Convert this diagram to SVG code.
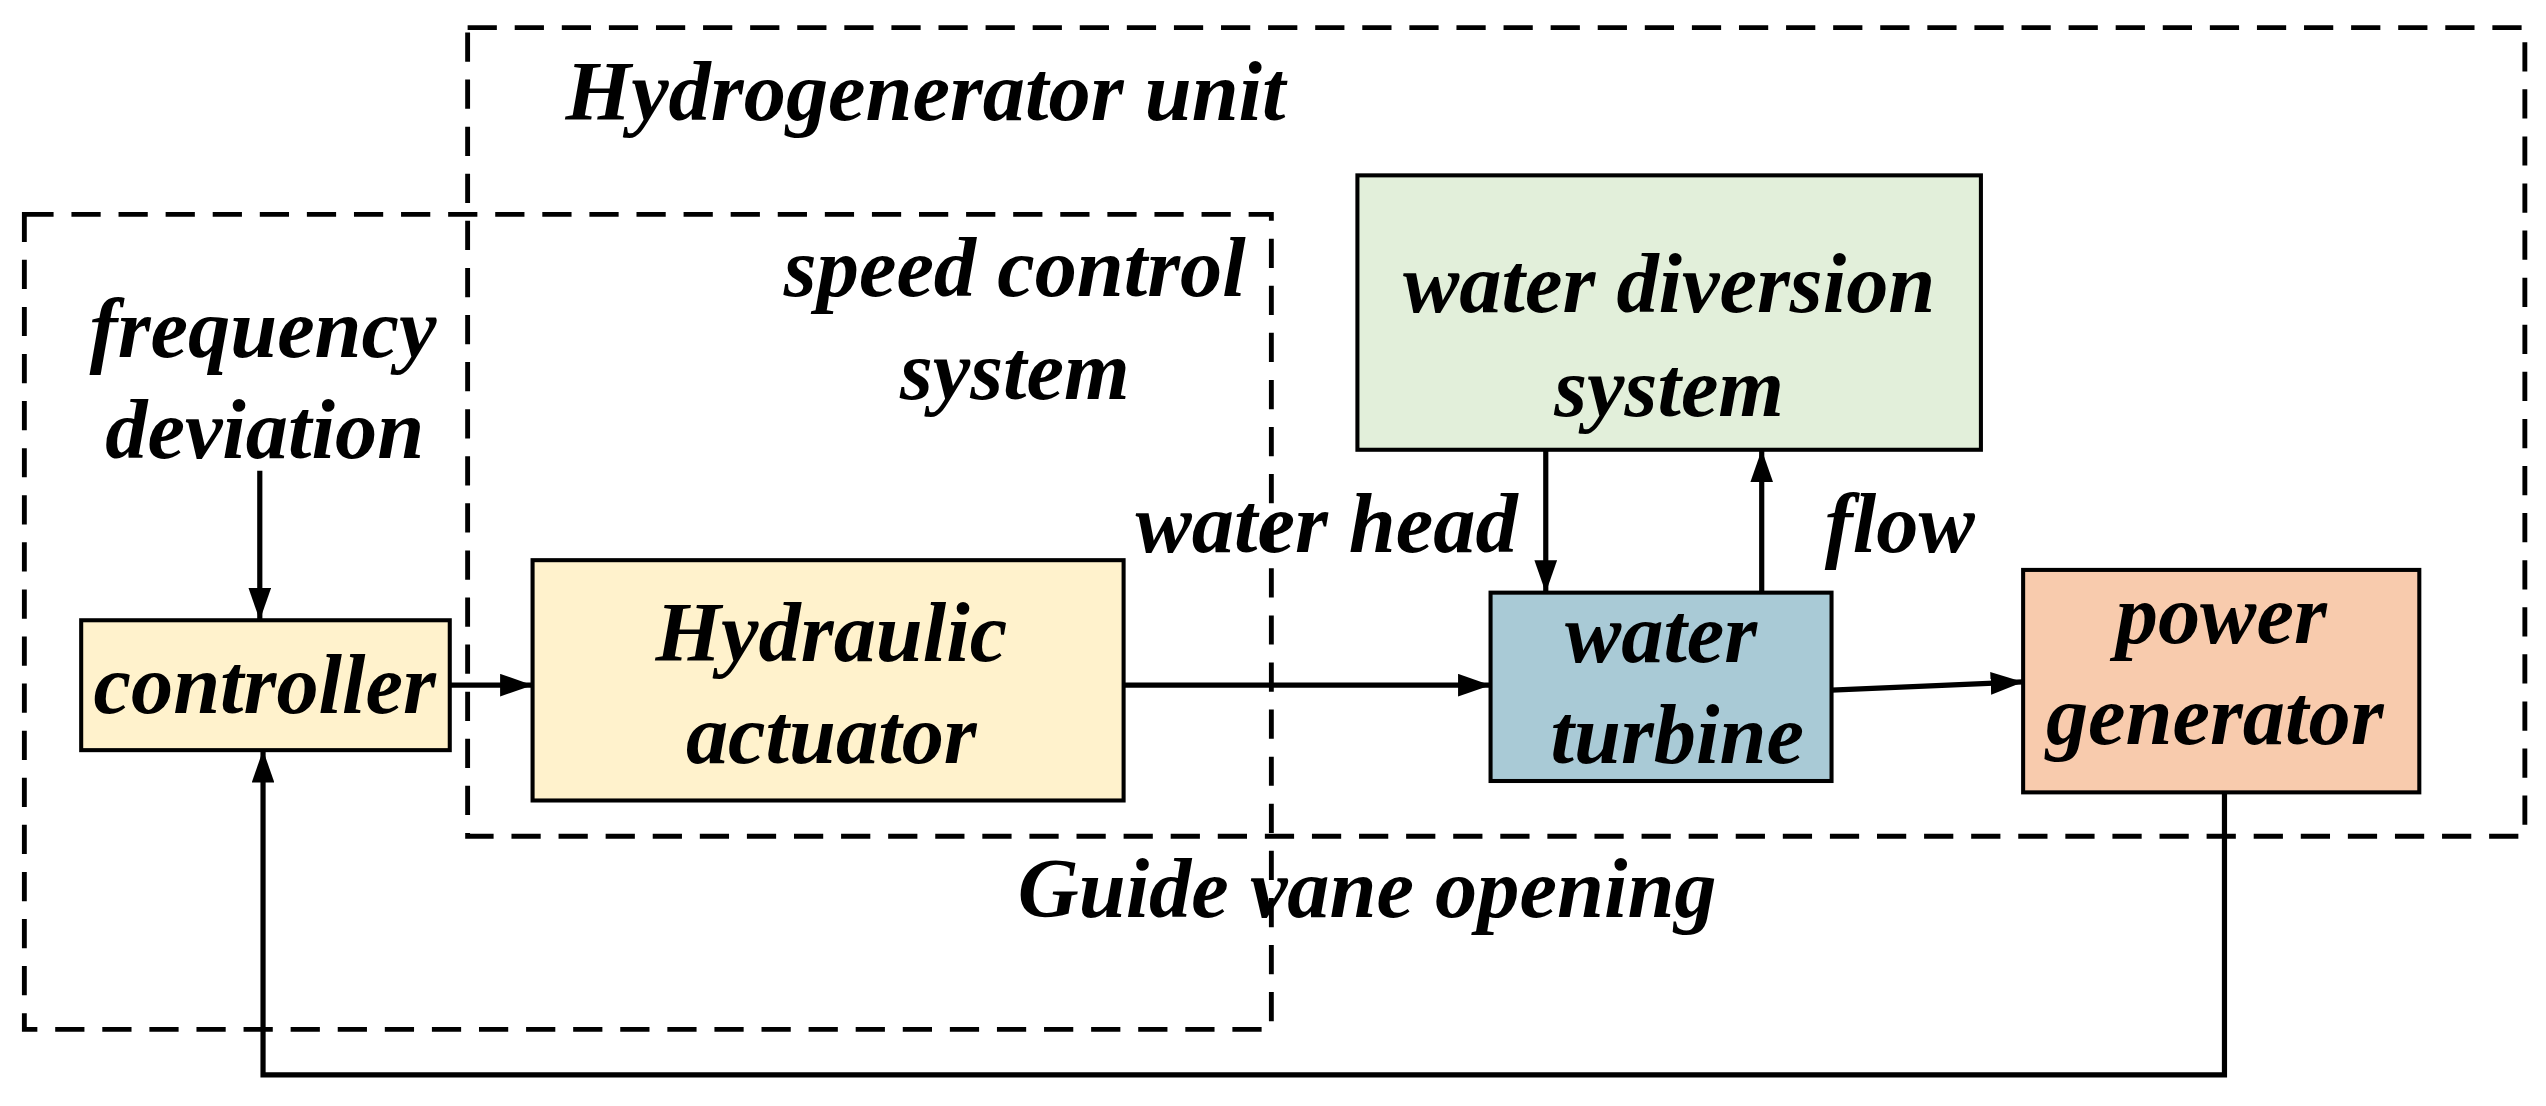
<svg xmlns="http://www.w3.org/2000/svg" width="2546" height="1106" viewBox="0 0 2546 1106">
<style>
.t{font-family:"Liberation Serif","Times New Roman",serif;font-weight:bold;font-style:italic;font-size:52px;fill:#000;text-anchor:middle}
.dash{fill:none;stroke:#000;stroke-width:3;stroke-dasharray:18,11}
.box{stroke:#000;stroke-width:2.5}
.ln{fill:none;stroke:#000;stroke-width:3.2}
</style>
<defs>
<marker id="a" viewBox="0 0 10 10" refX="10" refY="5" markerWidth="20" markerHeight="14" orient="auto" markerUnits="userSpaceOnUse" preserveAspectRatio="none">
<path d="M0,0 L10,5 L0,10 z" fill="#000"/>
</marker>
</defs>
<rect width="2546" height="1106" fill="#fff"/>
<g transform="scale(1.6237)">
<g id="hydrogenerator-unit">
<rect class="dash" x="288" y="17" width="1267" height="498"/>
<text class="t" x="570" y="74">Hydrogenerator unit</text>
</g>
<g id="speed-control-system">
<rect class="dash" x="15" y="132" width="768" height="502"/>
<text class="t" x="625" y="182">speed control</text>
<text class="t" x="625" y="246">system</text>
</g>
<g id="controller">
<rect class="box" x="50" y="382" width="227" height="80" fill="#fff2cc"/>
<text class="t" x="163" y="439">controller</text>
</g>
<g id="hydraulic-actuator">
<rect class="box" x="328" y="345" width="364" height="148" fill="#fff2cc"/>
<text class="t" x="512" y="407">Hydraulic</text>
<text class="t" x="512" y="470">actuator</text>
</g>
<g id="water-diversion-system">
<rect class="box" x="836" y="108" width="384" height="169" fill="#e2efda"/>
<text class="t" x="1028" y="192">water diversion</text>
<text class="t" x="1028" y="256">system</text>
</g>
<g id="water-turbine">
<rect class="box" x="918" y="365" width="210" height="116" fill="#a9cad6"/>
<text class="t" x="1023" y="408">water</text>
<text class="t" x="1033" y="470">turbine</text>
</g>
<g id="power-generator">
<rect class="box" x="1246" y="351" width="244" height="137" fill="#f8cbad"/>
<text class="t" x="1368" y="396">power</text>
<text class="t" x="1364" y="458">generator</text>
</g>
<g id="labels">
<text class="t" x="162" y="220">frequency</text>
<text class="t" x="163" y="282">deviation</text>
<text class="t" x="817" y="340">water head</text>
<text class="t" x="1170" y="340">flow</text>
<text class="t" x="842" y="565">Guide vane opening</text>
</g>
<g id="connectors">
<line class="ln" x1="160" y1="290" x2="160" y2="382" marker-end="url(#a)"/>
<line class="ln" x1="277" y1="422" x2="328" y2="422" marker-end="url(#a)"/>
<line class="ln" x1="692" y1="422" x2="918" y2="422" marker-end="url(#a)"/>
<line class="ln" x1="952" y1="277" x2="952" y2="365" marker-end="url(#a)"/>
<line class="ln" x1="1085" y1="365" x2="1085" y2="277" marker-end="url(#a)"/>
<line class="ln" x1="1128" y1="425" x2="1246" y2="420" marker-end="url(#a)"/>
<polyline class="ln" points="1370,488 1370,662 162,662 162,462" marker-end="url(#a)"/>
</g>
</g>
</svg>
